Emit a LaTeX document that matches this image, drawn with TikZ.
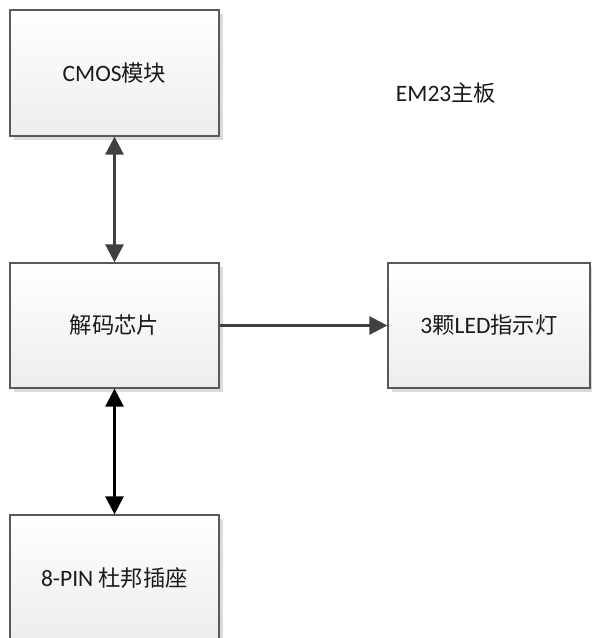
\documentclass[tikz,border=0pt]{standalone}
\usepackage{fontspec}
\setmainfont{Carlito}
\newfontfamily\cjk{Noto Sans CJK SC}[Scale=0.95]
\usetikzlibrary{arrows.meta,shadows}
\definecolor{txt}{HTML}{1A1A1A}
\definecolor{edge}{HTML}{595959}
\definecolor{arr}{HTML}{404040}
\tikzset{
  blk/.style={draw=edge, line width=1.2pt, top color=white, bottom color=black!7,
    drop shadow={shadow xshift=4pt, shadow yshift=-4pt, fill=black!14, opacity=1},
    rectangle, inner sep=0pt, text=txt,
    font=\fontsize{23.5}{27}\selectfont},
  tip/.style={},
  conn/.style={line width=2.6pt, -{Triangle[length=18pt,width=18pt]}},
  bconn/.style={line width=2.6pt, {Triangle[length=18pt,width=18pt]}-{Triangle[length=18pt,width=18pt]}}
}
\begin{document}
\begin{tikzpicture}[x=1pt,y=-1pt]
\useasboundingbox (0,0) rectangle (592,638);
\node[blk, minimum width=209pt, minimum height=126pt] (cmos) at (114.5,73) {CMOS{\cjk 模块}};
\node[blk, minimum width=209pt, minimum height=125pt] (dec) at (114.5,325.5) {{\cjk 解码芯片}};
\node[blk, minimum width=202pt, minimum height=125pt] (led) at (489,325.5) {3{\cjk 颗}LED{\cjk 指示灯}};
\node[blk, minimum width=209pt, minimum height=126pt] (pin) at (114.5,578) {8-PIN {\cjk 杜邦插座}};
\node[text=txt, font=\fontsize{23.5}{27}\selectfont] (title) at (446,93) {EM23{\cjk 主板}};
\draw[bconn, arr] (cmos.south) -- (dec.north);
\draw[conn, arr] (dec.east) -- (led.west);
\draw[bconn, black] (dec.south) -- (pin.north);
\end{tikzpicture}
\end{document}
